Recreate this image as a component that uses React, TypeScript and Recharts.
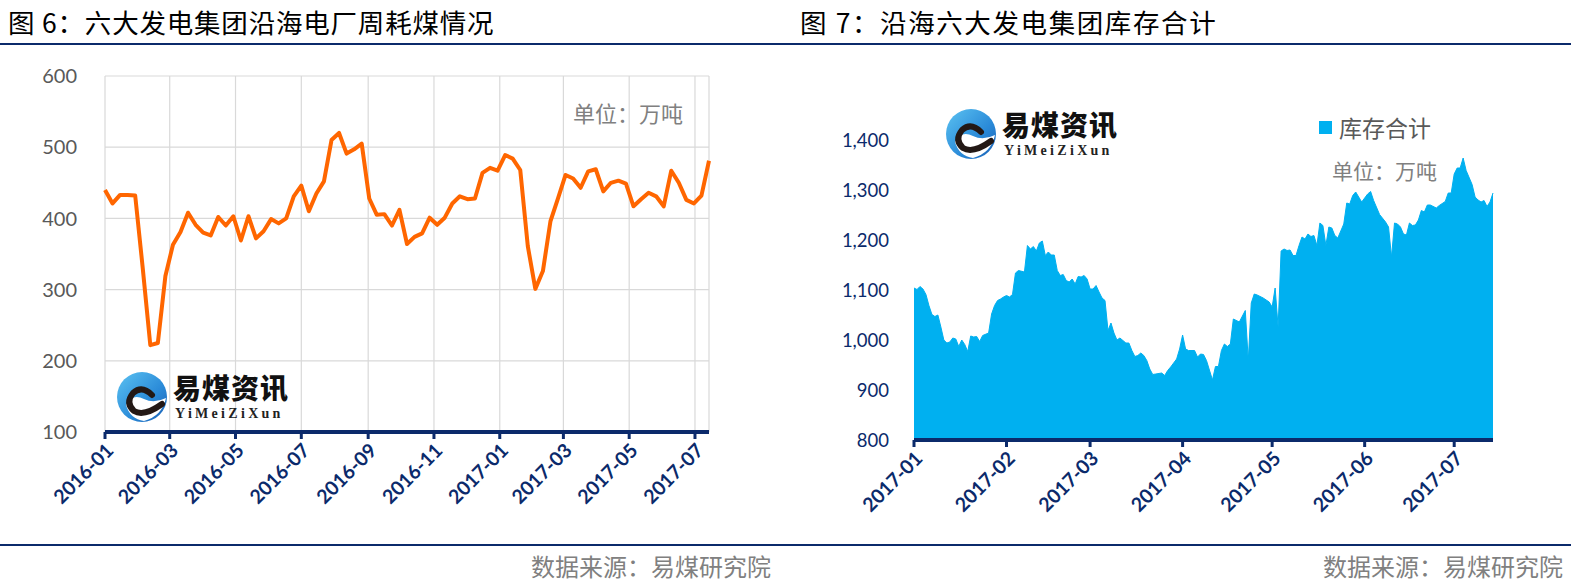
import React from 'react'
import {
  LineChart,
  Line,
  AreaChart,
  Area,
  XAxis,
  YAxis,
  CartesianGrid,
  Legend,
} from 'recharts'

const NAVY = '#0b2a6b'
const CJK = '"Noto Sans CJK SC", "Noto Sans", sans-serif'
const LATIN = 'Lato, "Noto Sans", sans-serif'

// 图6: weekly coal burn (万吨), one value per week from 2016-01-01
const burnStart = '2016-01-01'
const weeklyBurn = [
  440, 421, 433, 433, 432, 330, 222, 225, 319, 363, 381, 408, 391, 380, 376, 402,
  390, 403, 369, 403, 372, 382, 399, 393, 400, 431, 446, 410, 435, 452, 510, 520,
  491, 497, 505, 428, 405, 406, 390, 412, 364, 374, 379, 401, 391, 401, 421, 431,
  427, 428, 464, 471, 467, 489, 484, 468, 361, 301, 326, 396, 428, 461, 456, 443,
  466, 469, 438, 450, 453, 449, 417, 427, 436, 431, 417, 467, 450, 426, 421, 432,
  481,
]
const burnTicks = [
  '2016-01', '2016-03', '2016-05', '2016-07', '2016-09',
  '2016-11', '2017-01', '2017-03', '2017-05', '2017-07',
]
const burnYTicks = [100, 200, 300, 400, 500, 600]

// 图7: stock at coastal plants (万吨), [days since 2017-01-01, value]
const stockStart = '2017-01-01'
const stock: [number, number][] = [
  [0, 1104], [1, 1101], [2, 1107], [3, 1102], [4, 1091], [5, 1069], [6, 1051], [7, 1047],
  [8, 1050], [9, 1026], [10, 1000], [11, 994], [12, 996], [13, 1004], [14, 1002], [15, 987],
  [16, 1000], [17, 991], [18, 977], [19, 1008], [20, 1006], [21, 1007], [22, 997], [23, 1009],
  [25, 1014], [26, 1052], [27, 1069], [28, 1079], [29, 1082], [30, 1086], [31, 1089], [32, 1086],
  [33, 1091], [34, 1134], [35, 1139], [37, 1136], [38, 1189], [39, 1182], [40, 1187], [41, 1178],
  [42, 1194], [43, 1198], [44, 1169], [45, 1176], [46, 1170], [47, 1170], [48, 1139], [49, 1129],
  [50, 1131], [51, 1119], [52, 1116], [53, 1122], [54, 1112], [55, 1127], [56, 1126], [57, 1129],
  [58, 1122], [59, 1102], [60, 1102], [61, 1109], [62, 1096], [63, 1084], [64, 1079], [65, 1019],
  [66, 1034], [67, 1014], [68, 1000], [69, 1004], [70, 999], [71, 994], [72, 994], [73, 979],
  [74, 967], [75, 969], [76, 974], [77, 969], [78, 959], [79, 942], [80, 931], [81, 932],
  [83, 934], [84, 929], [85, 939], [86, 946], [87, 954], [88, 962], [89, 982], [90, 1010],
  [91, 982], [92, 979], [94, 979], [95, 966], [96, 972], [97, 971], [98, 959], [100, 920],
  [101, 947], [102, 947], [103, 979], [104, 992], [105, 987], [106, 992], [107, 1042], [109, 1036],
  [111, 1059], [112, 959], [113, 1074], [114, 1092], [115, 1090], [117, 1084], [119, 1076], [120, 1066],
  [121, 1104], [122, 1026], [123, 1178], [124, 1182], [125, 1179], [126, 1180], [127, 1169], [128, 1169],
  [129, 1189], [130, 1206], [131, 1202], [132, 1212], [133, 1207], [134, 1209], [135, 1189], [136, 1234],
  [137, 1229], [138, 1189], [139, 1226], [140, 1224], [141, 1209], [142, 1204], [144, 1232], [145, 1274],
  [146, 1272], [147, 1289], [148, 1296], [150, 1276], [152, 1292], [153, 1297], [154, 1279], [156, 1251],
  [158, 1236], [159, 1226], [160, 1166], [161, 1234], [162, 1232], [163, 1226], [164, 1212], [165, 1210],
  [166, 1234], [167, 1229], [168, 1230], [169, 1240], [170, 1259], [171, 1256], [172, 1270], [173, 1270],
  [175, 1264], [176, 1269], [178, 1277], [179, 1294], [180, 1294], [181, 1332], [182, 1344], [183, 1344],
  [184, 1364], [185, 1339], [187, 1311], [188, 1286], [189, 1280], [190, 1276], [191, 1279], [192, 1267],
  [193, 1276], [194, 1294],
]
const stockTicks = ['2017-01', '2017-02', '2017-03', '2017-04', '2017-05', '2017-06', '2017-07']
const stockYTicks = [800, 900, 1000, 1100, 1200, 1300, 1400]

const toUtc = (s: string) => {
  const [y, m, d] = s.split('-')
  return Date.UTC(+y, +m - 1, d ? +d : 1)
}
const daysFrom = (start: string, s: string) => Math.round((toUtc(s) - toUtc(start)) / 86400000)

const burnData = weeklyBurn.map((value, i) => ({ day: i * 7, value }))
const burnTickDays = burnTicks.map(t => daysFrom(burnStart, t))
const stockData = stock.map(([day, value]) => ({ day, value }))
const stockTickDays = stockTicks.map(t => daysFrom(stockStart, t))

const labelFor = (days: number[], labels: string[]) => (v: number) => labels[days.indexOf(v)] ?? ''

function Logo({ left, top }: { left: number; top: number }) {
  return (
    <div style={{ position: 'absolute', left, top, width: 190, height: 52 }}>
      <svg width={52} height={52} style={{ position: 'absolute', left: 0, top: 0 }}>
        <defs>
          <linearGradient id={`lg${left}`} x1="0" y1="0" x2="1" y2="1">
            <stop offset="0" stopColor="#5cc3f2" />
            <stop offset="0.6" stopColor="#2a8ad8" />
            <stop offset="1" stopColor="#1a5fb4" />
          </linearGradient>
        </defs>
        <circle cx={26} cy={26} r={25} fill={`url(#lg${left})`} />
        <path d="M10 34 Q16 22 28 28 Q38 33 50 27 Q46 45 28 50 Q14 48 10 34 Z" fill="#ffffff" />
        <path d="M36 24 Q26 14 17 22 Q9 32 18 40 Q28 46 46 33" fill="none" stroke="#231815" strokeWidth={6} strokeLinecap="round" />
      </svg>
      <div style={{ position: 'absolute', left: 57, top: 0, font: `900 28px/32px ${CJK}`, color: '#111', whiteSpace: 'nowrap', letterSpacing: 1 }}>
        易煤资讯
      </div>
      <div style={{ position: 'absolute', left: 59, top: 35, font: `bold 14px/16px "Liberation Serif", serif`, color: '#222', letterSpacing: 3.3, whiteSpace: 'nowrap' }}>
        YiMeiZiXun
      </div>
    </div>
  )
}

const textAt = (left: number, top: number, size: number, color: string, text: string, extra: React.CSSProperties = {}) => (
  <div style={{ position: 'absolute', left, top, font: `${size}px/${size}px ${CJK}`, color, whiteSpace: 'nowrap', ...extra }}>
    {text}
  </div>
)

function StockLegend() {
  return (
    <div style={{ display: 'flex', alignItems: 'center', gap: 7 }}>
      <div style={{ width: 13, height: 13, background: '#00b0f0' }} />
      <span style={{ font: `23px/26px ${CJK}`, color: '#595959' }}>库存合计</span>
    </div>
  )
}

const xTick = { fill: NAVY, fontSize: 19.5, fontWeight: 700, fontFamily: LATIN }

export default function App() {
  return (
    <div style={{ position: 'absolute', left: 0, top: 0, width: 1571, height: 588, background: '#fff', overflow: 'hidden' }}>
      {textAt(8, 9, 26.5, '#000', '图 6：六大发电集团沿海电厂周耗煤情况', { letterSpacing: 0.8 })}
      {textAt(800, 9, 26.5, '#000', '图 7：沿海六大发电集团库存合计', { letterSpacing: 1.6 })}
      <div style={{ position: 'absolute', left: 0, top: 43, width: 1571, height: 2, background: NAVY }} />

      <div style={{ position: 'absolute', left: 0, top: 0 }}>
        <LineChart width={790} height={588} data={burnData} margin={{ top: 76, right: 81, left: 45, bottom: 56 }}>
          <CartesianGrid stroke="#d9d9d9" strokeWidth={1.2} />
          <XAxis
            dataKey="day"
            type="number"
            domain={[0, 560]}
            ticks={burnTickDays}
            interval={0}
            tickFormatter={labelFor(burnTickDays, burnTicks)}
            height={100}
            axisLine={{ stroke: NAVY, strokeWidth: 4 }}
            tickLine={{ stroke: NAVY, strokeWidth: 3 }}
            tickSize={7}
            tickMargin={3}
            angle={-45}
            textAnchor="end"
            tick={xTick}
          />
          <YAxis
            domain={[100, 600]}
            ticks={burnYTicks}
            interval={0}
            width={60}
            axisLine={false}
            tickLine={false}
            tickSize={0}
            tickMargin={28}
            tick={{ fill: '#595959', fontSize: 20, fontFamily: LATIN }}
          />
          <Line
            dataKey="value"
            type="linear"
            stroke="#ff6600"
            strokeWidth={4}
            strokeLinejoin="round"
            dot={false}
            isAnimationActive={false}
          />
        </LineChart>
      </div>
      <Logo left={116} top={371} />
      {textAt(573, 101, 22, '#808080', '单位：万吨')}

      <div style={{ position: 'absolute', left: 790, top: 0 }}>
        <AreaChart width={781} height={588} data={stockData} margin={{ top: 140, right: 78, left: 44, bottom: 48 }}>
          <XAxis
            dataKey="day"
            type="number"
            domain={[0, 194]}
            ticks={stockTickDays}
            interval={0}
            tickFormatter={labelFor(stockTickDays, stockTicks)}
            height={100}
            axisLine={{ stroke: NAVY, strokeWidth: 4 }}
            tickLine={{ stroke: NAVY, strokeWidth: 3 }}
            tickSize={7}
            tickMargin={3}
            angle={-45}
            textAnchor="end"
            tick={xTick}
          />
          <YAxis
            domain={[800, 1400]}
            ticks={stockYTicks}
            interval={0}
            width={80}
            axisLine={false}
            tickLine={false}
            tickSize={0}
            tickMargin={25}
            tickFormatter={(v: number) => v.toLocaleString('en-US')}
            tick={{ fill: NAVY, fontSize: 18.5, fontFamily: LATIN }}
          />
          <Legend
            layout="horizontal"
            verticalAlign="middle"
            align="center"
            content={() => <StockLegend />}
            wrapperStyle={{ left: 529, top: 114, width: 'auto' }}
          />
          <Area
            dataKey="value"
            name="库存合计"
            type="linear"
            baseValue="dataMin"
            fill="#00b0f0"
            fillOpacity={1}
            stroke="#00b0f0"
            strokeWidth={1}
            isAnimationActive={false}
          />
        </AreaChart>
      </div>
      <Logo left={945} top={108} />
      {textAt(1332, 160, 21, '#808080', '单位：万吨')}

      <div style={{ position: 'absolute', left: 0, top: 544, width: 1571, height: 2, background: NAVY }} />
      {textAt(531, 554, 24, '#808080', '数据来源：易煤研究院')}
      {textAt(1323, 554, 24, '#808080', '数据来源：易煤研究院')}
    </div>
  )
}
